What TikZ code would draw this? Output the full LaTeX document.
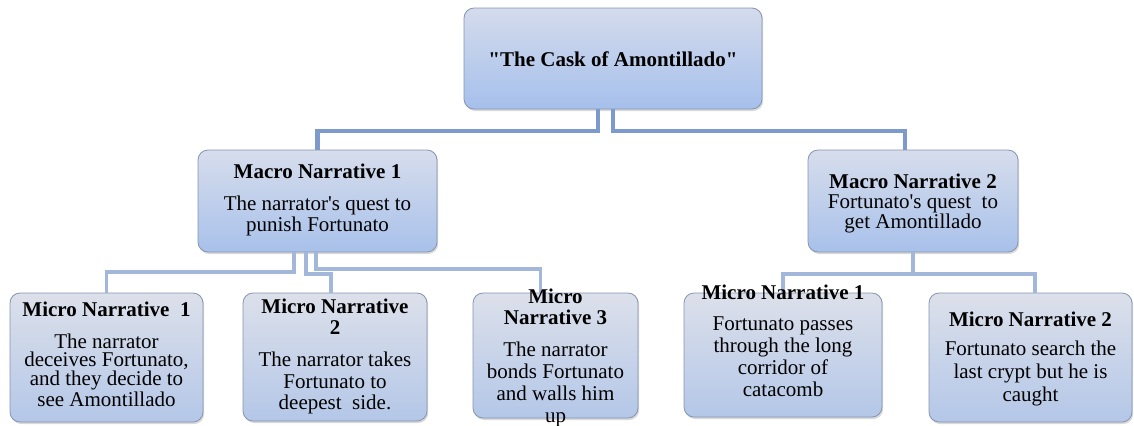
\documentclass[tikz,border=0pt]{standalone}
\usepackage{fontspec}
\setmainfont{Liberation Serif}
\usepackage{xcolor}
\usepackage{tikz}
\usetikzlibrary{shadows}
\definecolor{trunkblue}{RGB}{124,155,204}
\definecolor{branchblue}{RGB}{163,183,219}
\definecolor{edgegray}{RGB}{132,148,176}
\tikzset{titlebox/.style={
    draw=edgegray,
    line width=0.4pt,
    top color={rgb,255:red,212;green,219;blue,236},
    bottom color={rgb,255:red,166;green,192;blue,236},
    rounded corners=5pt,
    inner sep=0pt,
    outer sep=0pt,
    drop shadow={shadow xshift=0.6pt, shadow yshift=-1pt, opacity=0.3},
}}
\tikzset{macrobox/.style={
    titlebox,
    top color={rgb,255:red,215;green,221;blue,236},
    bottom color={rgb,255:red,168;green,193;blue,234},
}}
\tikzset{microbox/.style={
    titlebox,
    top color={rgb,255:red,220;green,224;blue,234},
    bottom color={rgb,255:red,180;green,199;blue,232},
}}
\tikzset{txt/.style={
    align=center,
    inner sep=0pt,
    font=\fontsize{10.5}{11}\selectfont,
}}
\tikzset{trunk/.style={
    draw=trunkblue,
    line width=2.35pt,
}}
\tikzset{branch/.style={
    draw=branchblue,
    line width=1.75pt,
}}

\begin{document}
\begin{tikzpicture}[
                x=0.5pt, y=-0.5pt
        ]
            \useasboundingbox (0,0) rectangle (1134,425);

            \node[titlebox, minimum width=149pt, minimum height=50.5pt] (cask) at (613,58.5) {};
            \node[macrobox, minimum width=119.5pt, minimum height=51pt] (macro1) at (317.5,201) {};
            \node[macrobox, minimum width=105pt, minimum height=51pt] (macro2) at (913,201) {};
            \node[microbox, minimum width=96.5pt, minimum height=64.5pt] (micro1) at (106.5,357.5) {};
            \node[microbox, minimum width=92pt, minimum height=64pt] (micro2) at (335,357) {};
            \node[microbox, minimum width=82.5pt, minimum height=62.5pt] (micro3) at (555.5,355.5) {};
            \node[microbox, minimum width=99pt, minimum height=62pt] (micro4) at (783,355) {};
            \node[microbox, minimum width=101.5pt, minimum height=64.5pt] (micro5) at (1030.5,357.5) {};

            \draw[trunk] ([xshift=-7.5pt]cask.south) -- ++(0,22) -| (macro1.north);
            \draw[trunk] (cask.south) -- ++(0,22) -| ([xshift=-4pt]macro2.north);

            \draw[branch] ([xshift=-11.75pt]macro1.south) -- ++(0,20) -| (micro1.north);
            \draw[branch] ([xshift=-5.75pt]macro1.south) -- ++(0,22) -| ([xshift=-2pt]micro2.north);
            \draw[branch] ([xshift=-0.75pt]macro1.south) -- ++(0,17) -| ([xshift=-7.5pt]micro3.north);
            \draw[branch] (macro2.south) -- ++(0,22) -| (micro4.north);
            \draw[branch] (macro2.south) -- ++(0,22) -| ([xshift=2.25pt]micro5.north);

            \node[txt] at (613,59) {\textbf{\textquotedbl The Cask of Amontillado\textquotedbl}};
            \node[txt, font=\fontsize{10.5}{9.2}\selectfont] at (317.5,200) {\textbf{Macro Narrative 1}\\[6.8pt]The narrator\textquotesingle s quest to\\punish Fortunato};
            \node[txt, font=\fontsize{10.5}{10}\selectfont] at (913,203) {\textbf{Macro Narrative 2}\\Fortunato\textquotesingle s quest\ \ to\\get Amontillado};
            \node[txt, font=\fontsize{10.5}{9.3}\selectfont] at (106.5,354) {\textbf{Micro Narrative\ \ 1}\\[6.7pt]The narrator\\deceives Fortunato,\\and they decide to\\see Amontillado};
            \node[txt, font=\fontsize{10.5}{10.8}\selectfont] at (335,356.5) {\textbf{Micro Narrative}\\\textbf{2}\\[5.2pt]The narrator takes\\Fortunato to\\deepest\ \ side.};
            \node[txt, font=\fontsize{10.5}{10.9}\selectfont] at (555.5,357.5) {\textbf{Micro}\\\textbf{Narrative 3}\\[5pt]The narrator\\bonds Fortunato\\and walls him\\up};
            \node[txt] at (783,340.5) {\textbf{Micro Narrative 1}\\[4.5pt]Fortunato passes\\through the long\\corridor of\\catacomb};
            \node[txt, font=\fontsize{10.5}{11.5}\selectfont] at (1030.5,358.5) {\textbf{Micro Narrative 2}\\[3pt]Fortunato search the\\last crypt but he is\\caught};

        \end{tikzpicture}
\end{document}
